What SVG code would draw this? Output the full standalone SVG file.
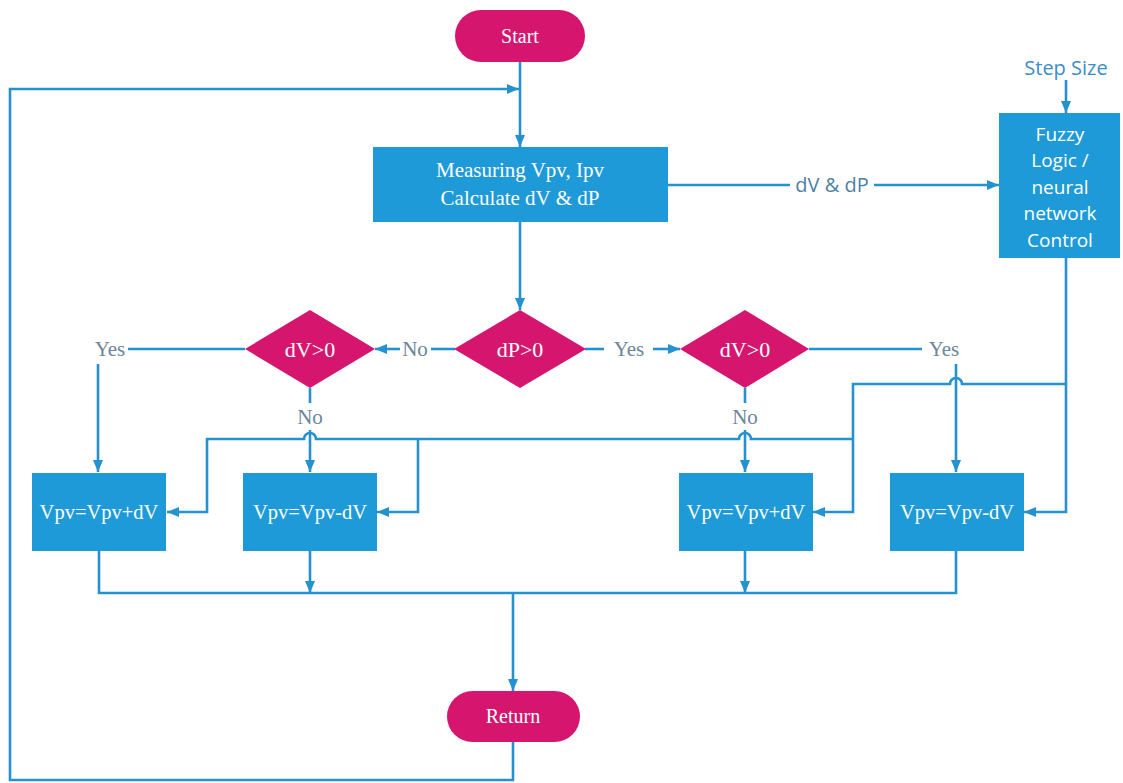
<svg xmlns="http://www.w3.org/2000/svg" width="1123" height="783" viewBox="0 0 1123 783">
<style>
.box{fill:#1e9ad8}
.term{fill:#d6166e}
.ln{fill:none;stroke:#2592d0;stroke-width:2.6}
.serif{font-family:"Liberation Serif","Times New Roman",serif;fill:#fff;text-anchor:middle}
.sans{font-family:"Open Sans","Noto Sans",sans-serif;fill:#fff;text-anchor:middle}
.lbl{font-family:"Liberation Serif","Times New Roman",serif;fill:#6d8699;font-size:21px;text-anchor:middle}
.slbl{font-family:"Open Sans","Noto Sans",sans-serif;font-size:20px;text-anchor:middle}
</style>
<defs>
<marker id="ah" viewBox="0 0 12 10" refX="12" refY="5" markerWidth="12" markerHeight="10" markerUnits="userSpaceOnUse" orient="auto">
<path d="M0,0 L12,5 L0,10 Z" fill="#2592d0"/>
</marker>
</defs>
<rect width="1123" height="783" fill="#fff"/>
<g id="connectors">
<path class="ln" d="M520,62 V147" marker-end="url(#ah)"/>
<path class="ln" d="M513,742 V780 H10 V89 H519" marker-end="url(#ah)"/>
<path class="ln" d="M668,185 H790"/>
<path class="ln" d="M874,185 H999" marker-end="url(#ah)"/>
<path class="ln" d="M1066,80 V113" marker-end="url(#ah)"/>
<path class="ln" d="M520,222 V310" marker-end="url(#ah)"/>
<path class="ln" d="M455,349 H431"/>
<path class="ln" d="M400,349 H375" marker-end="url(#ah)"/>
<path class="ln" d="M585,349 H604"/>
<path class="ln" d="M653,349 H680" marker-end="url(#ah)"/>
<path class="ln" d="M245,349 H128"/>
<path class="ln" d="M98,364 V472" marker-end="url(#ah)"/>
<path class="ln" d="M310,388 V403"/>
<path class="ln" d="M310,430 V472" marker-end="url(#ah)"/>
<path class="ln" d="M809,349 H922"/>
<path class="ln" d="M956,364 V472" marker-end="url(#ah)"/>
<path class="ln" d="M745,388 V403"/>
<path class="ln" d="M745,430 V472" marker-end="url(#ah)"/>
<path class="ln" d="M1066,258 V512 H1024" marker-end="url(#ah)"/>
<path class="ln" d="M1066,384 H962 a6,6 0 0 0 -12,0 H853 V512 H813" marker-end="url(#ah)"/>
<path class="ln" d="M853,439 H751 a6,6 0 0 0 -12,0 H316 a6,6 0 0 0 -12,0 H207 V512 H167" marker-end="url(#ah)"/>
<path class="ln" d="M418,439 V512 H377" marker-end="url(#ah)"/>
<path class="ln" d="M99,551 V593 H956 V551"/>
<path class="ln" d="M310,551 V593" marker-end="url(#ah)"/>
<path class="ln" d="M745,551 V593" marker-end="url(#ah)"/>
<path class="ln" d="M513,593 V691" marker-end="url(#ah)"/>
<text class="slbl" x="832" y="192" fill="#4e7fa4">dV &amp; dP</text>
<text class="slbl" x="1066" y="75" fill="#3a8dc9">Step Size</text>
<text class="lbl" x="415" y="356">No</text>
<text class="lbl" x="629" y="356">Yes</text>
<text class="lbl" x="110" y="356">Yes</text>
<text class="lbl" x="310" y="424">No</text>
<text class="lbl" x="944" y="356">Yes</text>
<text class="lbl" x="745" y="424">No</text>
</g>
<g id="start">
<rect class="term" x="455" y="10" width="130" height="52" rx="26"/>
<text class="serif" x="520" y="43" font-size="20">Start</text>
</g>
<g id="measure">
<rect class="box" x="373" y="147" width="295" height="75"/>
<text class="serif" x="520" y="177" font-size="21">Measuring Vpv, Ipv</text>
<text class="serif" x="520" y="205" font-size="21">Calculate dV &amp; dP</text>
</g>
<g id="fuzzy">
<rect class="box" x="999" y="113" width="121" height="145"/>
<text class="sans" x="1060" y="141" font-size="19">Fuzzy</text>
<text class="sans" x="1060" y="167" font-size="19">Logic /</text>
<text class="sans" x="1060" y="194" font-size="19">neural</text>
<text class="sans" x="1060" y="220" font-size="19">network</text>
<text class="sans" x="1060" y="247" font-size="19">Control</text>
</g>
<g id="dP">
<polygon class="term" points="520,310 586,349 520,388 454,349"/>
<text class="serif" x="520" y="357" font-size="22">dP&gt;0</text>
</g>
<g id="dV_left">
<polygon class="term" points="310,310 375,349 310,388 245,349"/>
<text class="serif" x="310" y="357" font-size="22">dV&gt;0</text>
</g>
<g id="dV_right">
<polygon class="term" points="745,310 809,349 745,388 680,349"/>
<text class="serif" x="745" y="357" font-size="22">dV&gt;0</text>
</g>
<g id="b1">
<rect class="box" x="32" y="473" width="134" height="78"/>
<text class="serif" x="99" y="519" font-size="20.5">Vpv=Vpv+dV</text>
</g>
<g id="b2">
<rect class="box" x="243" y="473" width="134" height="78"/>
<text class="serif" x="310" y="519" font-size="20.5">Vpv=Vpv-dV</text>
</g>
<g id="b3">
<rect class="box" x="679" y="473" width="134" height="78"/>
<text class="serif" x="746" y="519" font-size="20.5">Vpv=Vpv+dV</text>
</g>
<g id="b4">
<rect class="box" x="890" y="473" width="134" height="78"/>
<text class="serif" x="957" y="519" font-size="20.5">Vpv=Vpv-dV</text>
</g>
<g id="return">
<rect class="term" x="447" y="691" width="133" height="51" rx="25.5"/>
<text class="serif" x="513" y="723" font-size="20">Return</text>
</g>
</svg>
